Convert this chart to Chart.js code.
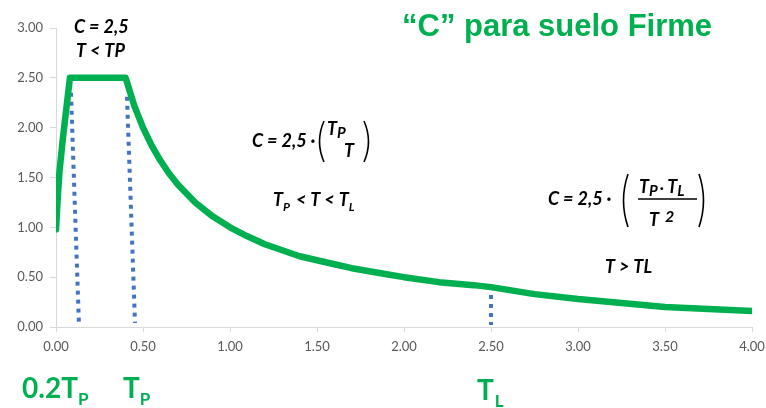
<!DOCTYPE html>
<html>
<head>
<meta charset="utf-8">
<script src="https://cdn.jsdelivr.net/npm/chart.js@4"></script>
<style>
  body { margin: 0; background: #fff; }
  #wrap { width: 766px; height: 408px; }
</style>
</head>
<body>
<div id="wrap"><canvas id="myChart" width="766" height="408"></canvas></div>
<script>
// Spectrum values
const periodT = [0, 0.01, 0.02, 0.04, 0.06, 0.08, 0.40, 0.45, 0.50, 0.55, 0.60, 0.65, 0.70, 0.80, 0.90, 1.00, 1.10, 1.20, 1.30, 1.40, 1.50, 1.60, 1.70, 1.80, 1.90, 2.00, 2.20, 2.40, 2.50, 2.75, 3.00, 3.25, 3.50, 3.75, 4.00];
const coefC   = [0.98, 1.30, 1.56, 1.90, 2.20, 2.50, 2.50, 2.22, 2.00, 1.82, 1.67, 1.54, 1.43, 1.25, 1.11, 1.00, 0.91, 0.83, 0.77, 0.71, 0.67, 0.63, 0.59, 0.56, 0.53, 0.50, 0.45, 0.42, 0.40, 0.33, 0.28, 0.24, 0.20, 0.18, 0.16];

// dotted marker lines (slightly slanted in the original)
const mark02TP_T = [0.086, 0.132];
const mark02TP_C = [2.35, 0.02];
const markTP_T = [0.408, 0.454];
const markTP_C = [2.31, 0.04];
const markTL_T = [2.50, 2.50];
const markTL_C = [0.32, 0.02];

const xTicks = [0, 0.5, 1, 1.5, 2, 2.5, 3, 3.5, 4];
const yTicks = [0, 0.5, 1, 1.5, 2, 2.5, 3];

const green = '#00B050';
const blue = '#4472C4';

function pts(xs, ys) {
    return xs.map((x, i) => ({ x: x, y: ys[i] }));
}

function dotted(xs, ys) {
    return {
        data: pts(xs, ys),
        borderColor: blue,
        borderWidth: 4,
        borderDash: [4, 5],
        pointRadius: 0,
        fill: false
    };
}

// draw runs of text with their own font and baseline shift
function runs(ctx, x, y, parts) {
    parts.forEach(p => {
        ctx.font = p[1];
        ctx.fillText(p[0], x, y + (p[2] || 0));
        x += ctx.measureText(p[0]).width + (p[3] || 0);
    });
}

function paren(ctx, x, top, bot, dir) {
    const mid = (top + bot) / 2;
    ctx.beginPath();
    ctx.moveTo(x, top);
    ctx.quadraticCurveTo(x - dir * 9, mid, x, bot);
    ctx.stroke();
}

const BI = (s) => `italic bold ${s}px Lato`;

const labels = {
    id: 'labels',
    afterDraw(chart) {
        const ctx = chart.ctx;
        ctx.save();
        ctx.textBaseline = 'alphabetic';
        ctx.textAlign = 'left';

        // title
        ctx.fillStyle = green;
        ctx.font = 'bold 31px "Liberation Sans"';
        ctx.fillText('\u201CC\u201D para suelo Firme', 402, 36);

        ctx.fillStyle = '#000';
        ctx.strokeStyle = '#000';
        ctx.lineWidth = 1.6;

        // plateau
        runs(ctx, 74, 33, [['C = 2,5', BI(18)]]);
        runs(ctx, 76, 57, [['T < TP', BI(18)]]);

        // middle branch
        runs(ctx, 252, 147, [['C = 2,5 \u00B7', BI(18)]]);
        paren(ctx, 324, 121, 162, 1);
        paren(ctx, 364, 121, 162, -1);
        runs(ctx, 327, 135, [['T', BI(18)], ['P', BI(15), 3]]);
        runs(ctx, 344, 157, [['T', BI(18)]]);
        runs(ctx, 273, 206, [['T', BI(18)], ['P', BI(12), 5, 2], [' < T < ', BI(18)], ['T', BI(18)], ['L', BI(12), 5]]);

        // long period branch
        runs(ctx, 548, 205, [['C = 2,5 \u00B7', BI(18)]]);
        paren(ctx, 628, 174, 227, 1);
        paren(ctx, 699, 174, 227, -1);
        runs(ctx, 639, 193, [['T', BI(18)], ['P', BI(15), 3, 2], ['\u00B7 ', BI(15)], ['T', BI(18)], ['L', BI(15), 3]]);
        ctx.beginPath();
        ctx.moveTo(638, 199);
        ctx.lineTo(697, 199);
        ctx.stroke();
        runs(ctx, 649, 226, [['T', BI(18), 0, 6], ['2', BI(16), -4]]);
        runs(ctx, 605, 273, [['T > TL', BI(18)]]);

        // period labels under the axis
        ctx.fillStyle = green;
        runs(ctx, 22, 398, [['0.2T', 'bold 28px Lato'], ['P', 'bold 17px Lato', 7]]);
        runs(ctx, 123, 398, [['T', 'bold 28px Lato'], ['P', 'bold 17px Lato', 7]]);
        runs(ctx, 477, 400, [['T', 'bold 28px Lato', 0, 1], ['L', 'bold 17px Lato', 7]]);

        ctx.restore();
    }
};

const ctx = document.getElementById('myChart');

new Chart(ctx, {
    type: 'line',
    data: {
        datasets: [
            {
                data: pts(periodT, coefC),
                borderColor: green,
                borderWidth: 6.5,
                borderJoinStyle: 'round',
                borderCapStyle: 'round',
                pointRadius: 0,
                tension: 0,
                fill: false
            },
            dotted(mark02TP_T, mark02TP_C),
            dotted(markTP_T, markTP_C),
            dotted(markTL_T, markTL_C)
        ]
    },
    options: {
        responsive: false,
        animation: false,
        layout: { padding: { top: 28, right: 14, left: 0, bottom: 0 } },
        plugins: { legend: { display: false }, tooltip: { enabled: false } },
        scales: {
            x: {
                type: 'linear',
                min: 0,
                max: 4,
                afterBuildTicks: s => { s.ticks = xTicks.map(v => ({ value: v })); },
                afterFit: s => { s.height = 81; s.paddingRight = 0; },
                grid: { drawOnChartArea: false, tickLength: 5, color: '#D9D9D9' },
                border: { color: '#D9D9D9' },
                ticks: {
                    color: '#595959',
                    font: { family: 'Lato', size: 13 },
                    padding: 7,
                    maxRotation: 0,
                    callback: v => v.toFixed(2)
                }
            },
            y: {
                min: 0,
                max: 3,
                afterBuildTicks: s => { s.ticks = yTicks.map(v => ({ value: v })); },
                afterFit: s => { s.width = 56; },
                grid: { drawOnChartArea: false, tickLength: 6, color: '#D9D9D9' },
                border: { color: '#D9D9D9' },
                ticks: {
                    color: '#595959',
                    font: { family: 'Lato', size: 13 },
                    padding: 7,
                    callback: v => v.toFixed(2)
                }
            }
        }
    },
    plugins: [labels]
});
</script>
</body>
</html>
